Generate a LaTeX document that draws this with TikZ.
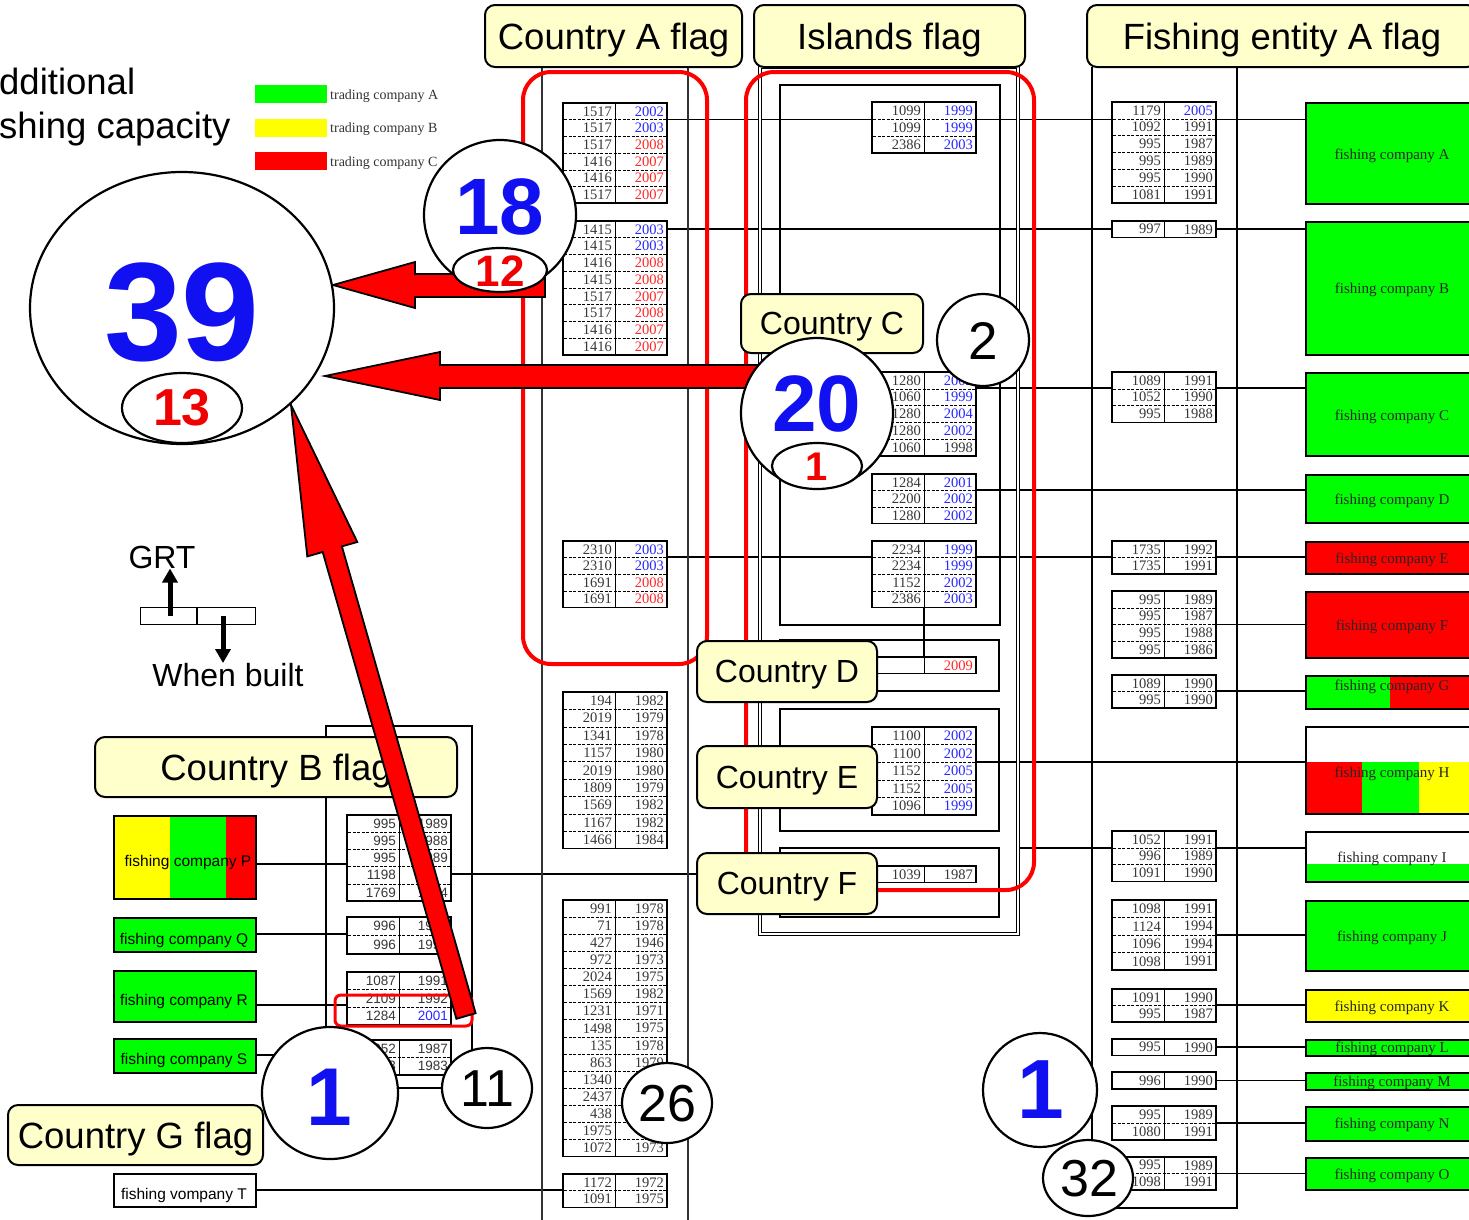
\documentclass[tikz,border=0pt]{standalone}
\usepackage{fontspec}
\setmainfont{Liberation Sans}
\newfontfamily\serifnum{Liberation Serif}
\usetikzlibrary{shapes.geometric,arrows.meta,calc}
\pgfdeclarelayer{bglayer}
\pgfdeclarelayer{connlayer}
\pgfsetlayers{bglayer,connlayer,main}
\definecolor{cg}{RGB}{0,255,0}
\definecolor{cy}{RGB}{255,255,0}
\definecolor{cr}{RGB}{255,0,0}
\definecolor{hdrfill}{RGB}{255,255,204}
\definecolor{tk}{RGB}{55,55,55}
\definecolor{tb}{RGB}{40,40,255}
\definecolor{tr}{RGB}{255,40,40}
\definecolor{bignum}{RGB}{16,16,240}
\definecolor{rednum}{RGB}{240,0,0}
\newcommand{\tfs}{\serifnum\fontsize{14.5}{15}\selectfont}
\newcommand{\tfb}{\fontsize{13.5}{14}\selectfont}
\newcommand{\hfs}{\fontsize{36.5}{40}\selectfont}
\newcommand{\cfs}{\fontsize{32}{36}\selectfont}
% #1 name, #2 x, #3 ytop, #4 row height, #5 rows, #6 font, #7 rows left/right/colour
\newcommand{\ftable}[7]{%
  \node[draw, line width=1.6pt, fill=white, minimum width=104pt, minimum height={(#4)*(#5)*1pt}, inner sep=0pt, outer sep=0pt, anchor=north west] (#1) at (#2,#3) {};
  \draw[line width=0.8pt] (#1.north) -- (#1.south);
  \foreach \lv/\rv/\cv [count=\ii] in {#7} {%
    \pgfmathsetmacro\yc{#3+(\ii-0.5)*#4}%
    \pgfmathsetmacro\yt{#3+(\ii-1)*#4}%
    \ifnum\ii>1 \draw[line width=0.6pt, dash pattern=on 3pt off 1.5pt] (#2+1,\yt) -- (#2+103,\yt);\fi
    \node[anchor=east, font=#6, text=tk, inner sep=0pt] (#1-l\ii) at (#2+49,\yc) {\lv};
    \node[anchor=east, font=#6, text=\cv, inner sep=0pt] (#1-r\ii) at (#2+101,\yc) {\rv};
  }%
}
\begin{document}
\begin{tikzpicture}[x=1pt,y=-1pt,
  conn/.style={line width=1.5pt},
  colline/.style={line width=1.2pt, black!80},
  hdr/.style={draw, line width=2pt, fill=hdrfill, rounded corners=10pt, inner sep=0pt, font=\hfs, text depth=0pt},
  cn/.style={font=\cfs},
  rbox/.style={draw, line width=1.8pt, minimum width=175pt, inner sep=0pt, anchor=north west},
  lbox/.style={draw, line width=1.8pt, minimum width=142pt, inner sep=0pt, anchor=north west},
  rlab/.style={font=\serifnum\fontsize{15}{15}\selectfont, text=black!85, inner sep=0pt, text depth=0pt},
  llab/.style={font=\fontsize{15.5}{16}\selectfont, inner sep=0pt, text depth=0pt},
  leglab/.style={font=\serifnum\fontsize{14}{14}\selectfont, text=black!80, inner sep=0pt, anchor=base west},
  circ/.style={ellipse, draw, line width=2.2pt, fill=white, inner sep=0pt},
  arr/.style={fill=cr, draw=black, line width=1.8pt, line join=miter},
  bnum/.style={font=\bfseries, text=bignum, inner sep=0pt},
  rnum/.style={font=\bfseries, text=rednum, inner sep=0pt},
  knum/.style={inner sep=0pt}]
\useasboundingbox (0,0) rectangle (1469,1219);
\clip (0,0) rectangle (1469,1219);
\begin{pgfonlayer}{bglayer}
\fill[white] (0,0) rectangle (1469,1219);
\end{pgfonlayer}

% title text
\node[anchor=base west, inner sep=0pt, font=\hfs] (tadd1) at (-1,94) {dditional};
\node[anchor=base west, inner sep=0pt, font=\hfs] (tadd2) at (-1,138) {shing capacity};

% legend
\node[fill=cg, minimum width=72pt, minimum height=18pt, inner sep=0pt, anchor=north west] (lgA) at (255,85) {};
\node[fill=cy, minimum width=72pt, minimum height=18pt, inner sep=0pt, anchor=north west] (lgB) at (255,119) {};
\node[fill=cr, minimum width=72pt, minimum height=18pt, inner sep=0pt, anchor=north west] (lgC) at (255,152) {};
\node[leglab] (lgtA) at (330,99) {trading company A};
\node[leglab] (lgtB) at (330,132) {trading company B};
\node[leglab] (lgtC) at (330,166) {trading company C};

% column frames
\draw[colline] (542,67) -- (542,1225);
\draw[colline] (688,67) -- (688,1225);
\draw[line width=0.9pt, double, double distance=2.5pt] (760,67) rectangle (1018,934);
\draw[line width=1.3pt] (780,85) rectangle (1000,625);
\draw[line width=1.3pt] (780,640) rectangle (999,691);
\draw[line width=1.3pt] (780,709) rectangle (999,831);
\draw[line width=1.3pt] (780,848) rectangle (999,917);
\draw[line width=1.5pt] (1092,67) -- (1092,1208) -- (1237,1208) -- (1237,67);
\draw[line width=1.3pt] (326,726) rectangle (472,1088);
\coordinate (islout) at (1019,848);

% right companies
\node[rbox, fill=cg, minimum height=101pt] (coA) at (1305,102) {};
\node[rbox, fill=cg, minimum height=133pt] (coB) at (1305,221) {};
\node[rbox, fill=cg, minimum height=83pt] (coC) at (1305,372) {};
\node[rbox, fill=cg, minimum height=48pt] (coD) at (1305,474) {};
\node[rbox, fill=cr, minimum height=32pt] (coE) at (1305,541) {};
\node[rbox, fill=cr, minimum height=66pt] (coF) at (1305,591) {};
\fill[cg] (1305,675) rectangle (1390,708);
\fill[cr] (1390,675) rectangle (1480,708);
\node[rbox, minimum height=33pt] (coG) at (1305,675) {};
\fill[cr] (1305,762) rectangle (1362,813);
\fill[cg] (1362,762) rectangle (1419,813);
\fill[cy] (1419,762) rectangle (1480,813);
\node[rbox, minimum height=87pt] (coH) at (1305,726) {};
\fill[cg] (1305,864) rectangle (1480,881);
\node[rbox, minimum height=50pt] (coI) at (1305,831) {};
\node[rbox, fill=cg, minimum height=70pt] (coJ) at (1305,900) {};
\node[rbox, fill=cy, minimum height=32pt] (coK) at (1305,989) {};
\node[rbox, fill=cg, minimum height=16pt] (coL) at (1305,1039) {};
\node[rbox, fill=cg, minimum height=17pt] (coM) at (1305,1072) {};
\node[rbox, fill=cg, minimum height=34pt] (coN) at (1305,1106) {};
\node[rbox, fill=cg, minimum height=32pt] (coO) at (1305,1157) {};
\node[rlab] (lbA) at (1392,154) {fishing company A};
\node[rlab] (lbB) at (1392,288) {fishing company B};
\node[rlab] (lbC) at (1392,415) {fishing company C};
\node[rlab] (lbD) at (1392,499) {fishing company D};
\node[rlab] (lbE) at (1392,558) {fishing company E};
\node[rlab] (lbF) at (1392,625) {fishing company F};
\node[rlab] (lbG) at (1392,685) {fishing company G};
\node[rlab] (lbH) at (1392,772) {fishing company H};
\node[rlab] (lbI) at (1392,857) {fishing company I};
\node[rlab] (lbJ) at (1392,936) {fishing company J};
\node[rlab] (lbK) at (1392,1006) {fishing company K};
\node[rlab] (lbL) at (1392,1047) {fishing company L};
\node[rlab] (lbM) at (1392,1081) {fishing company M};
\node[rlab] (lbN) at (1392,1123) {fishing company N};
\node[rlab] (lbO) at (1392,1174) {fishing company O};

% left companies
\fill[cy] (113,815) rectangle (170,898);
\fill[cg] (170,815) rectangle (226,898);
\fill[cr] (226,815) rectangle (255,898);
\node[lbox, minimum height=83pt] (coP) at (113,815) {};
\node[lbox, fill=cg, minimum height=34pt] (coQ) at (113,917) {};
\node[lbox, fill=cg, minimum height=51pt] (coR) at (113,970) {};
\node[lbox, fill=cg, minimum height=34pt] (coS) at (113,1038) {};
\node[lbox, minimum height=33pt] (coT) at (113,1173) {};
\node[llab] (lbP) at (188,861) {fishing company P};
\node[llab] (lbQ) at (184,939) {fishing company Q};
\node[llab] (lbR) at (184,1000) {fishing company R};
\node[llab] (lbS) at (184,1059) {fishing company S};
\node[llab] (lbT) at (184,1194) {fishing vompany T};

% tables
\ftable{TA1}{563}{103}{16.7}{6}{\tfs}{1517/2002/tb,1517/2003/tb,1517/2008/tr,1416/2007/tr,1416/2007/tr,1517/2007/tr}
\ftable{TA2}{563}{221}{16.75}{8}{\tfs}{1415/2003/tb,1415/2003/tb,1416/2008/tr,1415/2008/tr,1517/2007/tr,1517/2008/tr,1416/2007/tr,1416/2007/tr}
\ftable{TA3}{563}{541}{16.6}{4}{\tfs}{2310/2003/tb,2310/2003/tb,1691/2008/tr,1691/2008/tr}
\ftable{TA4}{563}{692}{17.4}{9}{\tfs}{194/1982/tk,2019/1979/tk,1341/1978/tk,1157/1980/tk,2019/1980/tk,1809/1979/tk,1569/1982/tk,1167/1982/tk,1466/1984/tk}
\ftable{TA5}{563}{900}{17.1}{15}{\tfs}{991/1978/tk,71/1978/tk,427/1946/tk,972/1973/tk,2024/1975/tk,1569/1982/tk,1231/1971/tk,1498/1975/tk,135/1978/tk,863/1979/tk,1340/{}/tk,2437/{}/tk,438/{}/tk,1975/{}/tk,1072/1973/tk}
\ftable{TA6}{563}{1174}{16.7}{2}{\tfs}{1172/1972/tk,1091/1975/tk}
\ftable{IS1}{872}{102}{17}{3}{\tfs}{1099/1999/tb,1099/1999/tb,2386/2003/tb}
\ftable{IS2}{872}{372}{16.8}{5}{\tfs}{1280/2002/tb,1060/1999/tb,1280/2004/tb,1280/2002/tb,1060/1998/tk}
\ftable{IS3}{872}{474}{16.5}{3}{\tfs}{1284/2001/tb,2200/2002/tb,1280/2002/tb}
\ftable{IS4}{872}{541}{16.6}{4}{\tfs}{2234/1999/tb,2234/1999/tb,1152/2002/tb,2386/2003/tb}
\ftable{ISD}{872}{657}{16.5}{1}{\tfs}{{}/2009/tr}
\ftable{ISE}{872}{727}{17.6}{5}{\tfs}{1100/2002/tb,1100/2002/tb,1152/2005/tb,1152/2005/tb,1096/1999/tb}
\ftable{ISF}{872}{866}{16.5}{1}{\tfs}{1039/1987/tk}
\ftable{FA1}{1112}{102}{16.8}{6}{\tfs}{1179/2005/tb,1092/1991/tk,995/1987/tk,995/1989/tk,995/1990/tk,1081/1991/tk}
\ftable{FA2}{1112}{221}{16.5}{1}{\tfs}{997/1989/tk}
\ftable{FA3}{1112}{372}{16.8}{3}{\tfs}{1089/1991/tk,1052/1990/tk,995/1988/tk}
\ftable{FA4}{1112}{541}{16.6}{2}{\tfs}{1735/1992/tk,1735/1991/tk}
\ftable{FA5}{1112}{591}{16.8}{4}{\tfs}{995/1989/tk,995/1987/tk,995/1988/tk,995/1986/tk}
\ftable{FA6}{1112}{675}{16.6}{2}{\tfs}{1089/1990/tk,995/1990/tk}
\ftable{FA7}{1112}{831}{16.8}{3}{\tfs}{1052/1991/tk,996/1989/tk,1091/1990/tk}
\ftable{FA8}{1112}{900}{17.5}{4}{\tfs}{1098/1991/tk,1124/1994/tk,1096/1994/tk,1098/1991/tk}
\ftable{FA9}{1112}{989}{16.5}{2}{\tfs}{1091/1990/tk,995/1987/tk}
\ftable{FA10}{1112}{1039}{16.5}{1}{\tfs}{995/1990/tk}
\ftable{FA11}{1112}{1072}{17}{1}{\tfs}{996/1990/tk}
\ftable{FA12}{1112}{1106}{17}{2}{\tfs}{995/1989/tk,1080/1991/tk}
\ftable{FA13}{1112}{1157}{16.5}{2}{\tfs}{995/1989/tk,1098/1991/tk}
\ftable{TB1}{347}{815}{17.2}{5}{\tfb}{995/1989/tk,995/1988/tk,995/1989/tk,1198/{}/tk,1769/1984/tk}
\ftable{TB2}{347}{917}{18.5}{2}{\tfb}{996/1990/tk,996/1990/tk}
\ftable{TB3}{347}{972}{17.7}{3}{\tfb}{1087/1991/tk,2109/1992/tk,1284/2001/tb}
\ftable{TB4}{347}{1040}{17.5}{2}{\tfb}{1052/1987/tk,1093/1983/tk}

% red group boxes
\draw[cr, line width=4pt, rounded corners=28pt] (523,72) rectangle (707,664);
\draw[cr, line width=4pt, rounded corners=28pt] (746,72) rectangle (1034,890);
\draw[cr, line width=3pt, rounded corners=6pt] (335,995) rectangle (472,1026);

% headers and country nodes
\node[hdr, minimum width=257pt, minimum height=62pt] (hA) at (613.5,36) {Country A flag};
\node[hdr, minimum width=271pt, minimum height=62pt] (hI) at (889.5,36) {Islands flag};
\node[hdr, minimum width=390pt, minimum height=62pt] (hF) at (1282,36) {Fishing entity A flag};
\node[hdr, minimum width=362pt, minimum height=60pt] (hB) at (276,767) {Country B flag};
\node[hdr, minimum width=255pt, minimum height=60pt] (hG) at (135.5,1135) {Country G flag};
\node[hdr, cn, minimum width=182pt, minimum height=59pt] (nC) at (832,323.5) {Country C};
\node[hdr, cn, minimum width=180pt, minimum height=61pt] (nD) at (787,671.5) {Country D};
\node[hdr, cn, minimum width=180pt, minimum height=62pt] (nE) at (787,777) {Country E};
\node[hdr, cn, minimum width=180pt, minimum height=61pt] (nF) at (787,883.5) {Country F};

% connectors, on a layer below the tables and boxes
\begin{pgfonlayer}{connlayer}
\draw[conn] (TA1.east |- 0,119.5) -- (coA.west |- 0,119.5);
\draw[conn] (TA2.east |- 0,229) -- (coB.west |- 0,229);
\draw[conn] (IS2.east |- 0,388) -- (coC.west |- 0,388);
\draw[conn] (IS3.east |- 0,490) -- (coD.west |- 0,490);
\draw[conn] (TA3.east |- 0,557) -- (coE.west |- 0,557);
\draw[conn] (FA5.east |- 0,624.6) -- (coF.west |- 0,624.6);
\draw[conn] (FA6.east |- 0,691) -- (coG.west |- 0,691);
\draw[conn] (ISE.east |- 0,762) -- (coH.west |- 0,762);
\draw[conn] (islout) -- (coI.west |- islout);
\draw[conn] (TB1.east |- 0,874) -- (nF.west |- 0,874);
\draw[conn] (FA8.east |- 0,935) -- (coJ.west |- 0,935);
\draw[conn] (FA9.east |- 0,1005) -- (coK.west |- 0,1005);
\draw[conn] (FA10.east |- 0,1047) -- (coL.west |- 0,1047);
\draw[conn] (FA11.east |- 0,1080.5) -- (coM.west |- 0,1080.5);
\draw[conn] (FA12.east |- 0,1123) -- (coN.west |- 0,1123);
\draw[conn] (FA13.east |- 0,1173.5) -- (coO.west |- 0,1173.5);
\draw[conn] (coP.east |- 0,864) -- (TB1.west |- 0,864);
\draw[conn] (coQ.east |- 0,934) -- (TB2.west |- 0,934);
\draw[conn] (coR.east |- 0,1005) -- (TB3.west |- 0,1005);
\draw[conn] (coS.east |- 0,1055) -- (TB4.west |- 0,1055);
\draw[conn] (coT.east |- 0,1190) -- (TA6.west |- 0,1190);
\draw[conn] (IS4.south) -- (ISD.north);
\end{pgfonlayer}

% GRT legend
\node[draw, line width=1.3pt, minimum width=115pt, minimum height=17pt, inner sep=0pt, anchor=north west] (grtbox) at (140,607) {};
\draw[line width=1.3pt] (197,607) -- (197,624);
\node[inner sep=0pt, font=\fontsize{32}{34}\selectfont] (grt) at (162,557) {GRT};
\node[inner sep=0pt, font=\fontsize{32}{34}\selectfont] (wb) at (228,675) {When built};
\draw[line width=5pt, -{Triangle[width=15pt,length=14pt]}] (170,616) -- (grt.south -| 170,0);
\draw[line width=5pt, -{Triangle[width=15pt,length=14pt]}] (223,616) -- (wb.north -| 223,0);

% big arrows
\draw[arr] (333,285) -- (415,262) -- (415,274) -- (545,274) -- (545,297) -- (415,297) -- (415,308) -- cycle;
\draw[arr] (325,376) -- (440,352) -- (440,365) -- (760,365) -- (760,388) -- (440,388) -- (440,400) -- cycle;
\draw[arr] (291,405) -- (357.3,542.0) -- (341.9,546.4) -- (475.6,1013.2) -- (456.4,1018.8) -- (322.7,552.0) -- (307.3,556.4) -- cycle;

% circles
\node[circ, minimum width=304pt, minimum height=272pt] (c39) at (182,308) {};
\node[bnum, font=\bfseries\fontsize{140}{140}\selectfont] (n39) at (182,312) {39};
\node[circ, minimum width=120pt, minimum height=70pt] (c13) at (182,408) {};
\node[rnum, font=\bfseries\fontsize{52}{52}\selectfont] (n13) at (182,408) {13};
\node[circ, minimum width=152pt, minimum height=150pt] (c18) at (500,215) {};
\node[bnum, font=\bfseries\fontsize{80}{80}\selectfont] (n18) at (500,207) {18};
\node[circ, minimum width=94pt, minimum height=44pt] (c12) at (500,270) {};
\node[rnum, font=\bfseries\fontsize{44}{44}\selectfont] (n12) at (500,271) {12};
\node[circ, minimum width=152pt, minimum height=150pt] (c20) at (817,413) {};
\node[bnum, font=\bfseries\fontsize{80}{80}\selectfont] (n20) at (817,404) {20};
\node[circ, minimum width=90pt, minimum height=46pt] (c1s) at (817,466) {};
\node[rnum, font=\bfseries\fontsize{40}{40}\selectfont] (n1s) at (817,467) {1};
\node[circ, minimum width=92pt, minimum height=92pt] (c2) at (983,340) {};
\node[knum, font=\fontsize{53}{53}\selectfont] (n2) at (983,341) {2};
\node[circ, minimum width=136pt, minimum height=132pt] (c1L) at (330,1093) {};
\node[bnum, font=\bfseries\fontsize{82}{82}\selectfont] (n1L) at (329,1097) {1};
\node[circ, minimum width=90pt, minimum height=80pt] (c11) at (487,1088) {};
\node[knum, font=\fontsize{52}{52}\selectfont] (n11) at (487,1089) {11};
\node[circ, minimum width=90pt, minimum height=80pt] (c26) at (667,1103) {};
\node[knum, font=\fontsize{52}{52}\selectfont] (n26) at (667,1104) {26};
\node[circ, minimum width=114pt, minimum height=114pt] (c1R) at (1040,1090) {};
\node[bnum, font=\bfseries\fontsize{84}{84}\selectfont] (n1R) at (1041,1090) {1};
\node[circ, minimum width=90pt, minimum height=76pt] (c32) at (1088,1178) {};
\node[knum, font=\fontsize{52}{52}\selectfont] (n32) at (1089,1179) {32};
\end{tikzpicture}
\end{document}
